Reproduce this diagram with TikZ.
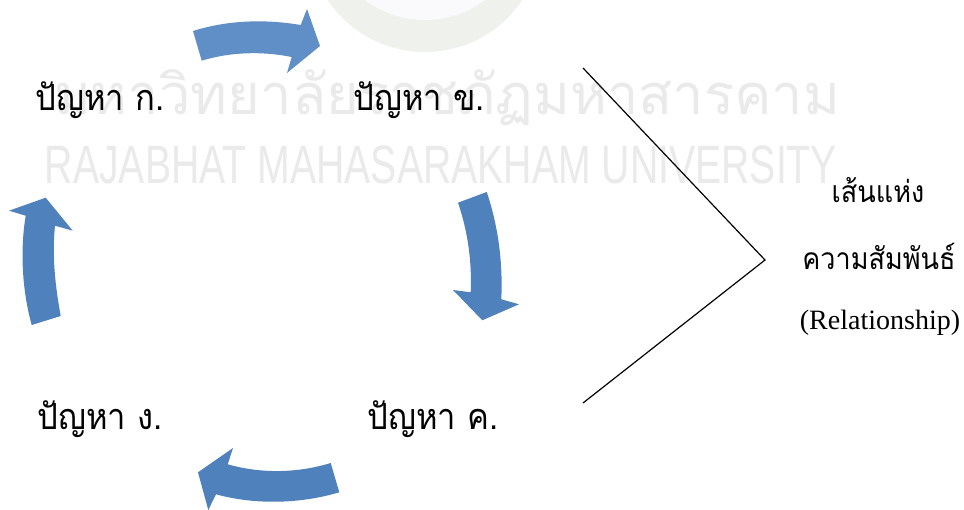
\documentclass[tikz,border=0pt]{standalone}
\usepackage{fontspec}
\setmainfont{Liberation Serif}
\newfontfamily\thaifont[Script=Thai]{Loma}
\newfontfamily\wmfont{Liberation Sans}
\definecolor{arrowblue}{HTML}{4F81BD}
\definecolor{arrowlight}{HTML}{5F8FC6}
\definecolor{wmgray}{HTML}{EAEAEA}
\definecolor{wmring}{HTML}{EFF2EC}
\definecolor{wminner}{HTML}{FAFAFD}
\tikzset{
  lbl/.style={font=\thaifont\fontsize{36}{38}\selectfont,inner sep=0pt,text=black,xscale=.91,transform shape},
  sidelbl/.style={font=\thaifont\fontsize{30}{32}\selectfont,inner sep=0pt,text=black,xscale=.9,transform shape},
  wm/.style={inner sep=0pt,text=wmgray},
  curved/.style={fill=arrowblue,draw=none},
  link/.style={draw=black,line width=1.2pt}
}
\begin{document}
\begin{tikzpicture}[x=1pt,y=-1pt]
\useasboundingbox (0,0) rectangle (964,510);
\fill[white] (0,0) rectangle (964,510);
% watermark
\begin{scope}
\clip (0,0) rectangle (964,510);
\fill[wmring] (425,-65) circle (117);
\fill[wminner] (425,-80) circle (100);
\end{scope}
\node[wm,font=\thaifont\fontsize{56}{58}\selectfont] (wmth) at (447,98) {มหาวิทยาลัยราชภัฏมหาสารคาม};
\node[wm,font=\wmfont\fontsize{54}{56}\selectfont,xscale=.726,transform shape] (wmen) at (441,164.5) {RAJABHAT MAHASARAKHAM UNIVERSITY};
% arrows
\path[curved,fill=arrowlight] (193,31) .. controls (228,20) and (265,19) .. (300.7,25) -- (307,9) -- (320,46) -- (287,73) -- (291.7,57) .. controls (262,51) and (230,52) .. (201.7,60.7) -- cycle;
\path[curved] (458,202.7) -- (486.7,192) .. controls (498,225) and (503,262) .. (501.3,299.3) -- (519,304.3) -- (482.3,320.3) -- (453,290) -- (470.7,292.3) .. controls (472,262) and (468,232) .. (458,202.7) -- cycle;
\path[curved] (330.7,463) -- (339.3,492.3) .. controls (300,504) and (255,505) .. (216,494.3) -- (208.3,510) -- (198,472.3) -- (233,448) -- (227.7,464.3) .. controls (262,474) and (298,473) .. (330.7,463) -- cycle;
\path[curved] (31.7,325) -- (60.7,316) .. controls (55,285) and (52,255) .. (55,225.7) -- (72.7,230.7) -- (45.7,197.7) -- (9,210.7) -- (25.7,215.7) .. controls (20,250) and (22,290) .. (31.7,325) -- cycle;
% labels
\node[lbl] (a) at (100,100) {ปัญหา ก.};
\node[lbl] (b) at (419,100) {ปัญหา ข.};
\node[lbl] (c) at (433,419) {ปัญหา ค.};
\node[lbl] (d) at (100,419) {ปัญหา ง.};
\node[sidelbl] (s1) at (878,190) {เส้นแห่ง};
\node[sidelbl] (s2) at (879,256) {ความสัมพันธ์};
\node[inner sep=0pt,font=\fontsize{28}{30}\selectfont] (s3) at (880,323) {(Relationship)};
% brace lines
\coordinate (ltop) at (583,68);
\coordinate (lmid) at (765,260);
\coordinate (lbot) at (583,403);
\draw[link] (ltop) -- (lmid) -- (lbot);
\end{tikzpicture}
\end{document}
